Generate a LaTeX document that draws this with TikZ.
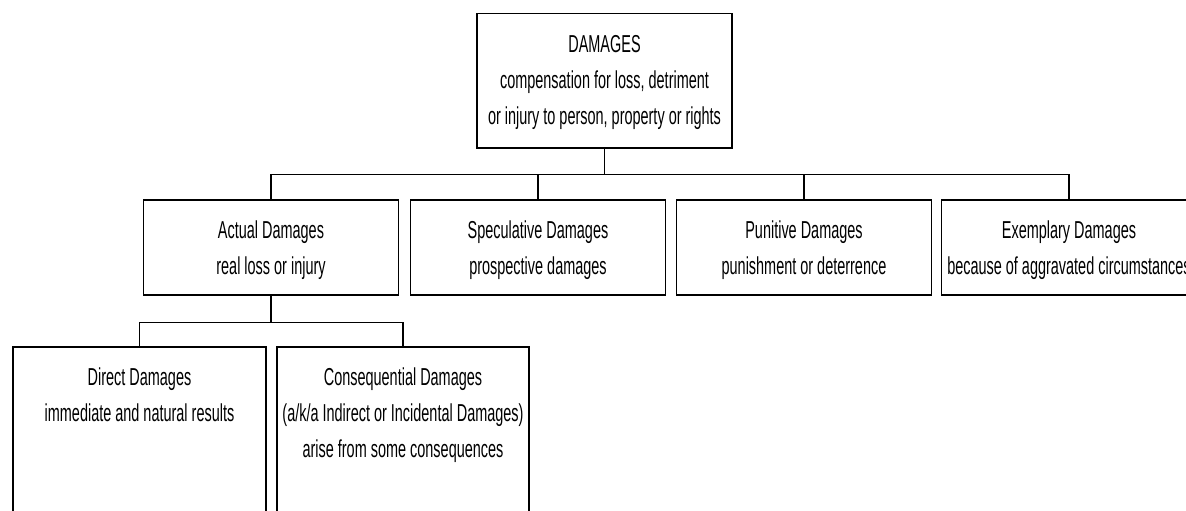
\documentclass[tikz,border=0pt]{standalone}
\usepackage{fontspec}
\setmainfont{Liberation Sans}[FakeStretch=0.59]
\usepackage{tikz}

\tikzset{
  dmgbox/.style={draw, line width=1.5pt, anchor=north, minimum width=255pt, align=center,
    inner xsep=0pt, inner ysep=0pt, font=\fontsize{24.5}{36}\selectfont},
  twolines/.style={text height=75pt},
  threelines/.style={text height=111pt},
  link/.style={line width=1.2pt}
}

\begin{document}
\begin{tikzpicture}[x=1pt,y=-1pt]
        \useasboundingbox (0,0) rectangle (1186,511);
        \node[dmgbox, threelines, text depth=23pt] (dmg) at (604.5,13) {DAMAGES\\compensation for loss, detriment\\or injury to person, property or rights};
        \node[dmgbox, twolines, text depth=20pt] (actual) at (271,199) {Actual Damages\\real loss or injury};
        \node[dmgbox, twolines, text depth=20pt] (spec) at (538,199) {Speculative Damages\\prospective damages};
        \node[dmgbox, twolines, text depth=20pt] (punit) at (804,199) {Punitive Damages\\punishment or deterrence};
        \node[dmgbox, twolines, text depth=20pt] (exempl) at (1069,199) {Exemplary Damages\\because of aggravated circumstances};
        \node[dmgbox, twolines, minimum width=253pt, text depth=200pt] (direct) at (139.5,346) {Direct Damages\\immediate and natural results};
        \node[dmgbox, threelines, minimum width=252pt, text depth=164pt] (conseq) at (403,346) {Consequential Damages\\(a/k/a Indirect or Incidental Damages)\\arise from some consequences};
        \draw[link] (dmg.south) -- ++(0,26) -| (actual.north);
        \draw[link] (dmg.south) -- ++(0,26) -| (spec.north);
        \draw[link] (dmg.south) -- ++(0,26) -| (punit.north);
        \draw[link] (dmg.south) -- ++(0,26) -| (exempl.north);
        \draw[link] (actual.south) -- ++(0,27) -| (direct.north);
        \draw[link] (actual.south) -- ++(0,27) -| (conseq.north);
    \end{tikzpicture}
\end{document}
